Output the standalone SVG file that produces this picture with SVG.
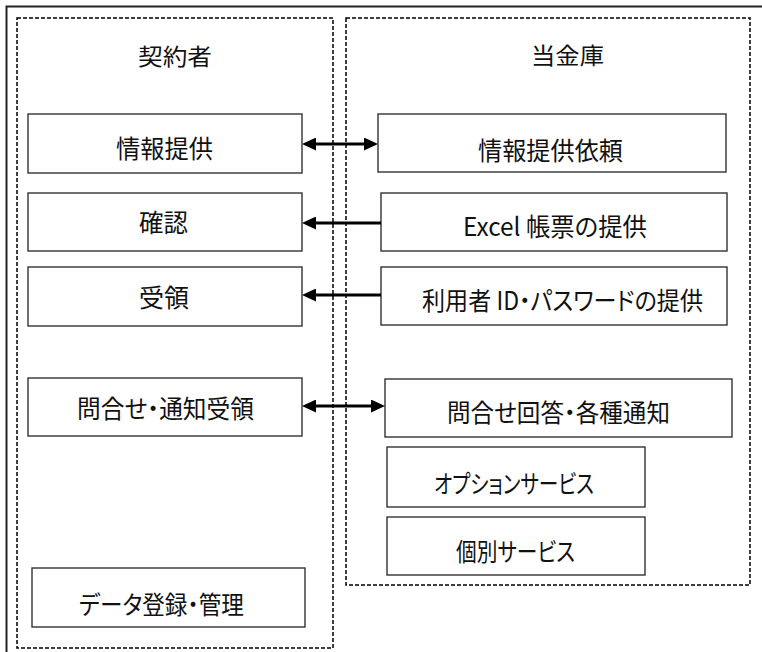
<svg xmlns="http://www.w3.org/2000/svg" width="762" height="652" viewBox="0 0 762 652">
<style>
.frame{fill:none;stroke:#222;stroke-width:2}
.lane{fill:none;stroke:#000;stroke-width:1.5;stroke-dasharray:4 2}
.box{fill:#fff;stroke:#333;stroke-width:1.4}
.t{font-family:"Noto Sans CJK JP","Noto Sans",sans-serif;font-size:25px;fill:#111;font-feature-settings:"palt"}
.h{font-family:"Noto Sans CJK JP","Noto Sans",sans-serif;font-size:23px;fill:#111}
.c{fill:none;stroke:#000;stroke-width:3}
</style>
<defs>
<marker id="ah" viewBox="0 0 14 13" refX="4" refY="6.5" markerWidth="14" markerHeight="13" markerUnits="userSpaceOnUse" orient="auto-start-reverse">
<path d="M0,0 L14,6.5 L0,13 Z" fill="#000"/>
</marker>
</defs>
<rect width="762" height="652" fill="#fff"/>
<path class="frame" d="M6.5,652 V6.5 H762"/>
<g id="lane-left">
<rect class="lane" x="17" y="18" width="316" height="630"/>
<text class="h" x="138" y="65.4" textLength="74" lengthAdjust="spacingAndGlyphs">契約者</text>
</g>
<g id="lane-right">
<rect class="lane" x="346" y="18" width="404" height="567"/>
<text class="h" x="531" y="64.2" textLength="73" lengthAdjust="spacingAndGlyphs">当金庫</text>
</g>
<g id="n-joho">
<rect class="box" x="28" y="114" width="274" height="59"/>
<text class="t" x="116" y="157.5" textLength="97" lengthAdjust="spacingAndGlyphs">情報提供</text>
</g>
<g id="n-kakunin">
<rect class="box" x="28" y="193" width="274" height="58"/>
<text class="t" x="139" y="232" textLength="49" lengthAdjust="spacingAndGlyphs">確認</text>
</g>
<g id="n-juryo">
<rect class="box" x="28" y="267" width="274" height="59"/>
<text class="t" x="139" y="306.5" textLength="50" lengthAdjust="spacingAndGlyphs">受領</text>
</g>
<g id="n-toiawase">
<rect class="box" x="28" y="378" width="274" height="58"/>
<text class="t" x="77" y="417.5" textLength="177" lengthAdjust="spacingAndGlyphs">問合せ・通知受領</text>
</g>
<g id="n-data">
<rect class="box" x="32" y="568" width="273" height="59"/>
<text class="t" x="79" y="613.5" textLength="165" lengthAdjust="spacingAndGlyphs">データ登録・管理</text>
</g>
<g id="n-irai">
<rect class="box" x="378" y="114" width="348" height="58"/>
<text class="t" x="478" y="159.5" textLength="145" lengthAdjust="spacingAndGlyphs">情報提供依頼</text>
</g>
<g id="n-excel">
<rect class="box" x="381" y="193" width="346" height="58"/>
<text class="t" x="463" y="235.5" textLength="184" lengthAdjust="spacingAndGlyphs">Excel 帳票の提供</text>
</g>
<g id="n-id">
<rect class="box" x="381" y="267" width="346" height="58"/>
<text class="t" x="422" y="310" textLength="281" lengthAdjust="spacingAndGlyphs">利用者 ID・パスワードの提供</text>
</g>
<g id="n-kaito">
<rect class="box" x="385" y="379" width="347" height="58"/>
<text class="t" x="447" y="422" textLength="223" lengthAdjust="spacingAndGlyphs">問合せ回答・各種通知</text>
</g>
<g id="n-option">
<rect class="box" x="387" y="447" width="258" height="60"/>
<text class="t" x="434" y="492.5" textLength="160" lengthAdjust="spacingAndGlyphs">オプションサービス</text>
</g>
<g id="n-kobetsu">
<rect class="box" x="387" y="517" width="258" height="58"/>
<text class="t" x="456" y="560.5" textLength="119" lengthAdjust="spacingAndGlyphs">個別サービス</text>
</g>
<g id="connectors">
<path class="c" d="M312,144 H368" marker-start="url(#ah)" marker-end="url(#ah)"/>
<path class="c" d="M381,223 H312" marker-end="url(#ah)"/>
<path class="c" d="M381,295 H312" marker-end="url(#ah)"/>
<path class="c" d="M312,406 H375" marker-start="url(#ah)" marker-end="url(#ah)"/>
</g>
</svg>
